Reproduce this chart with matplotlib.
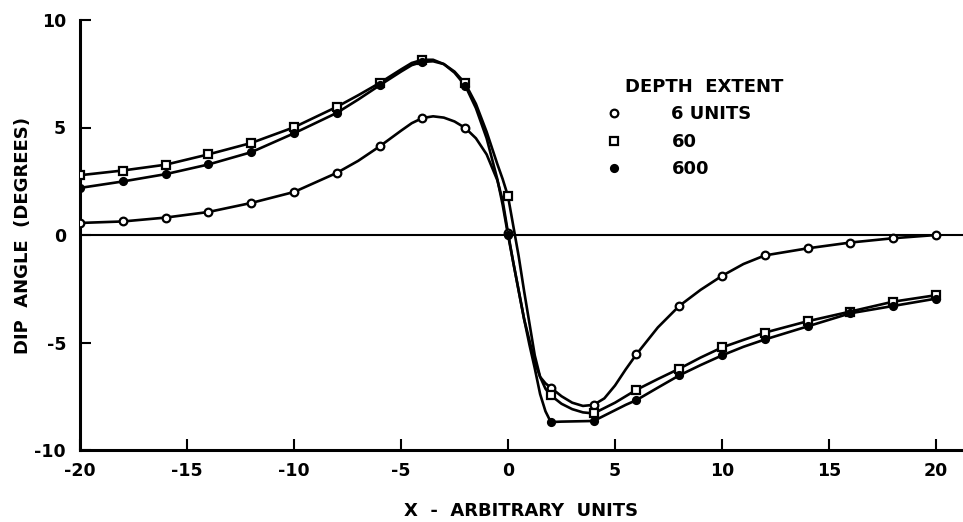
import numpy as np
import matplotlib
matplotlib.use("Agg")
import matplotlib.pyplot as plt

# x positions (denser where the curves bend sharply)
x_curve = [-20, -18, -16, -14, -12, -10, -8, -7, -6, -5, -4.5, -4, -3.5, -3, -2.5,
           -2, -1.5, -1, -0.5, -0.25, 0, 0.25, 0.5, 0.75, 1, 1.25, 1.5, 1.75, 2,
           2.5, 3, 3.5, 4, 4.5, 5, 5.5, 6, 7, 8, 9, 10, 11, 12, 14, 16, 18, 20]

dip_6 = [0.56, 0.63, 0.81, 1.07, 1.49, 2.0, 2.89, 3.45, 4.12, 4.85, 5.2, 5.44, 5.52, 5.46, 5.28,
         4.98, 4.5, 3.75, 2.55, 1.6, 0.1, -1.3, -2.6, -3.9, -4.9, -5.9, -6.6, -6.9, -7.1,
         -7.5, -7.8, -7.95, -7.9, -7.6, -7.0, -6.25, -5.55, -4.3, -3.3, -2.55, -1.9, -1.35, -0.95,
         -0.62, -0.35, -0.15, 0.0]

dip_60 = [2.78, 3.0, 3.27, 3.75, 4.28, 5.01, 5.96, 6.5, 7.07, 7.7, 8.0, 8.15, 8.15, 7.95, 7.6,
          7.05, 6.1, 4.8, 3.3, 2.6, 1.8, 0.4, -1.0, -2.6, -4.1, -5.6, -6.6, -7.15, -7.46,
          -7.85, -8.1, -8.25, -8.3, -8.05, -7.8, -7.5, -7.2, -6.7, -6.22, -5.7, -5.23, -4.88, -4.54,
          -4.01, -3.56, -3.1, -2.8]

dip_600 = [2.19, 2.49, 2.83, 3.28, 3.85, 4.73, 5.68, 6.3, 6.96, 7.6, 7.9, 8.05, 8.08, 7.95, 7.55,
           6.95, 5.9, 4.5, 2.6, 1.4, 0.0, -1.3, -2.6, -3.9, -5.1, -6.2, -7.4, -8.2, -8.7,
           -8.68, -8.67, -8.66, -8.65, -8.4, -8.15, -7.9, -7.68, -7.1, -6.53, -6.05, -5.6, -5.2, -4.86,
           -4.25, -3.64, -3.3, -2.96]

labels = ["6 UNITS", "60", "600"]
x_ticks = [-20, -15, -10, -5, 0, 5, 10, 15, 20]
y_ticks = [-10, -5, 0, 5, 10]


def main() -> None:
    plt.rcParams["axes.unicode_minus"] = False
    plt.rcParams["font.family"] = "DejaVu Sans"
    plt.rcParams["font.weight"] = "bold"

    fig = plt.figure(figsize=(9.63, 5.22), dpi=100)
    ax = fig.add_axes([80 / 963, 1 - 450 / 522, 1 - 80 / 963, 430 / 522])

    x = np.array(x_curve)
    marks = np.isclose(np.mod(x, 2), 0)

    styles = [
        dict(marker="o", mfc="white", ms=5.5),
        dict(marker="s", mfc="white", ms=5.5),
        dict(marker="o", mfc="black", ms=5),
    ]
    handles = []
    for y, lab, st in zip([dip_6, dip_60, dip_600], labels, styles):
        y = np.array(y)
        ax.plot(x, y, color="black", lw=1.9, zorder=2)
        h, = ax.plot(x[marks], y[marks], ls="none", color="black", mec="black",
                     mew=1.6, label=lab, zorder=3, **st)
        handles.append(h)

    ax.axhline(0, color="black", lw=1.5, zorder=1)

    ax.set_xlim(-20, 21.26)
    ax.set_ylim(-10, 10)
    ax.spines["top"].set_visible(False)
    ax.spines["right"].set_visible(False)
    ax.spines["left"].set_linewidth(2.2)
    ax.spines["bottom"].set_linewidth(2.2)

    ax.set_xticks(x_ticks)
    ax.set_xticklabels([str(t) for t in x_ticks])
    ax.set_yticks(y_ticks)
    ax.set_yticklabels([str(t) for t in y_ticks])
    ax.tick_params(direction="in", length=8, width=1.5, labelsize=12.5)
    ax.tick_params(axis="x", pad=9)
    ax.tick_params(axis="y", pad=10)

    ax.set_xlabel("X  -  ARBITRARY  UNITS", fontsize=13, fontweight="bold")
    ax.xaxis.set_label_coords(0.5, -0.122)
    ax.set_ylabel("DIP  ANGLE  (DEGREES)", fontsize=13, fontweight="bold")
    ax.yaxis.set_label_coords(-0.0544, 0.5)

    leg = ax.legend(handles=handles, title="DEPTH  EXTENT", loc="upper left",
                    bbox_to_anchor=(0.5946, 0.865), frameon=False, borderpad=0,
                    borderaxespad=0, handlelength=1, handletextpad=2.68,
                    labelspacing=0.52, fontsize=13, title_fontsize=13,
                    alignment="left")
    leg.get_title().set_fontweight("bold")
    # title in the reference starts a little right of the markers
    leg.get_title().set_position((20, 0))

    fig.savefig("out.png", dpi=100)


if __name__ == "__main__":
    main()
